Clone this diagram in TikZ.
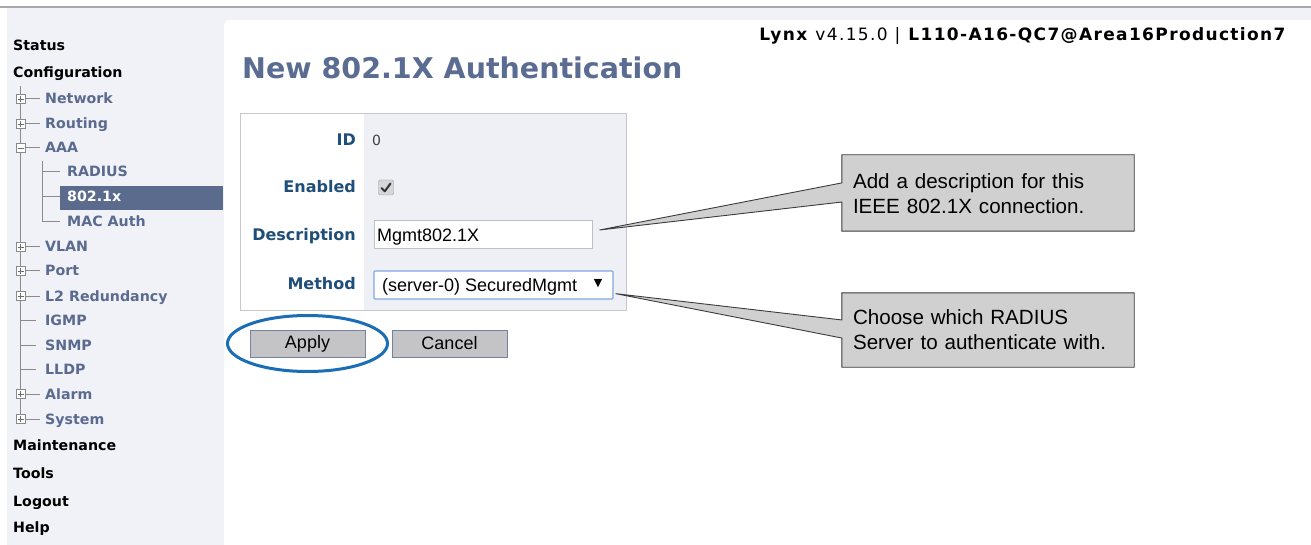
\documentclass[tikz,border=0pt]{standalone}
\usepackage{fontspec}
\setmainfont{Liberation Sans}
\newfontfamily\dv{DejaVu Sans}
\newfontfamily\dvwide[LetterSpace=8]{DejaVu Sans}
\usetikzlibrary{calc,shapes.geometric}
\definecolor{bgc}{HTML}{F0F2F7}
\definecolor{topline}{HTML}{A8A8A8}
\definecolor{sidec}{HTML}{5B6A8F}
\definecolor{hilite}{HTML}{5B6B8E}
\definecolor{titlec}{HTML}{5A6C92}
\definecolor{labelc}{HTML}{1F4E79}
\definecolor{treec}{HTML}{8A8A8A}
\definecolor{colbg}{HTML}{EEF0F6}
\definecolor{formborder}{HTML}{C8C8C8}
\definecolor{callfill}{HTML}{D0D0D0}
\definecolor{callborder}{HTML}{3C3C3C}
\definecolor{btnfill}{HTML}{C4C4C6}
\definecolor{btnborder}{HTML}{75819D}
\definecolor{ringc}{HTML}{1B6EB6}
\definecolor{selborder}{HTML}{7FA7E4}
\definecolor{inborder}{HTML}{BFBFBF}
\begin{document}
\begin{tikzpicture}[x=1pt,y=-1pt,
  sideitem/.style={anchor=base west, inner sep=0, font=\dv\bfseries\fontsize{14.2}{16}\selectfont, text=sidec},
  sidetop/.style={sideitem, text=black},
  treeline/.style={draw=treec, line width=1pt},
  formlabel/.style={anchor=base east, inner sep=0, font=\dv\bfseries\fontsize{16}{18}\selectfont, text=labelc},
  button/.style={draw=btnborder, fill=btnfill, line width=1pt, minimum width=115pt, minimum height=27pt, inner sep=0, font=\fontsize{18}{20}\selectfont},
  callbox/.style={minimum width=292pt, inner sep=0},
  calltext/.style={align=left, text width=275pt, inner sep=0, font=\fontsize{20.6}{25}\selectfont},
  callshape/.style={fill=callfill, draw=callborder, line width=0.9pt, line join=miter}
]
\useasboundingbox (0,0) rectangle (1311,545);
% background
\fill[white] (0,0) rectangle (1311,545);
\fill[bgc] (7,8) rectangle (1311,545);
\draw[topline, line width=1.5pt] (0,7) -- (1311,7);
% main panel
\fill[white, rounded corners=6pt] (224,20) rectangle (1330,570);

% ---------- sidebar ----------
\fill[hilite] (60,186) rectangle (223,210);
\draw[treeline] (20.5,86) -- (20.5,419);
\draw[treeline] (42.3,161) -- (42.3,222);
\foreach \yc in {99,124,148,247,271,296,394,419}{
  \draw[treeline, fill=white] (16,\yc-4.5) rectangle (25,\yc+4.5);
  \draw[treeline] (25,\yc) -- (40,\yc);
  \draw[treec!80!black, line width=0.9pt] (17.5,\yc) -- (23.5,\yc);
}
\foreach \yc in {99,124,247,271,296,394,419}{
  \draw[treec!80!black, line width=0.9pt] (20.5,\yc-3) -- (20.5,\yc+3);
}
\foreach \yc in {320,345,369}{ \draw[treeline] (20.5,\yc) -- (36,\yc); }
\foreach \yc in {172,197,222}{ \draw[treeline] (42.3,\yc) -- (60,\yc); }

\node[sidetop] (status) at (13,50.5) {Status};
\node[sidetop] (config) at (13,78) {Configuration};
\node[sideitem] (network) at (45,104) {Network};
\node[sideitem] (routing) at (45,129) {Routing};
\node[sideitem] (aaa) at (45,153) {AAA};
\node[sideitem] (radius) at (67,177) {RADIUS};
\node[sideitem, text=white] (dot1x) at (67,202) {802.1x};
\node[sideitem] (macauth) at (67,227) {MAC Auth};
\node[sideitem] (vlan) at (45,252) {VLAN};
\node[sideitem] (port) at (45,276) {Port};
\node[sideitem] (l2red) at (45,301) {L2 Redundancy};
\node[sideitem] (igmp) at (45,325) {IGMP};
\node[sideitem] (snmp) at (45,350) {SNMP};
\node[sideitem] (lldp) at (45,374) {LLDP};
\node[sideitem] (alarm) at (45,399) {Alarm};
\node[sideitem] (system) at (45,424) {System};
\node[sidetop] (maint) at (13,450.5) {Maintenance};
\node[sidetop] (tools) at (13,478.5) {Tools};
\node[sidetop] (logout) at (13,506) {Logout};
\node[sidetop] (help) at (13,532.5) {Help};

% ---------- header ----------
\node[anchor=base east, inner sep=0, font=\dvwide\fontsize{17}{19}\selectfont] (hdr) at (1287,41)
  {\textbf{Lynx} v4.15.0 | \textbf{L110-A16-QC7@Area16Production7}};
\node[anchor=base west, inner sep=0, font=\dv\bfseries\fontsize{28.5}{32}\selectfont, text=titlec] (title) at (242,79)
  {New 802.1X Authentication};

% ---------- form ----------
\fill[colbg] (364,114) rectangle (626,310);
\draw[formborder, line width=1pt] (240,114) rectangle (626,310);

\node[formlabel] (lid) at (356,146) {ID};
\node[formlabel] (lenabled) at (356,193) {Enabled};
\node[formlabel] (ldesc) at (356,241) {Description};
\node[formlabel] (lmethod) at (356,290) {Method};

\node[anchor=base west, inner sep=0, font=\dv\fontsize{14}{16}\selectfont, text=black!75] (idval) at (372,146) {0};

\node[draw=black!40, fill=black!16, rounded corners=2pt, minimum width=15pt, minimum height=15pt, inner sep=0] (chk) at (386,187.5) {};
\draw[black!80, line width=2pt, line cap=round, line join=round] ($(chk.center)+(-4.5,0.5)$) -- ($(chk.center)+(-1.2,3.8)$) -- ($(chk.center)+(4.5,-4)$);

\node[draw=inborder, fill=white, line width=1pt, minimum width=218pt, minimum height=28pt, inner sep=0] (desc) at (483,235) {};
\node[anchor=base west, inner sep=0, font=\fontsize{18}{20}\selectfont] (desctext) at (377,241.5) {Mgmt802.1X};

\node[draw=selborder, fill=white, line width=1.3pt, rounded corners=1pt, minimum width=239pt, minimum height=28pt, inner sep=0] (method) at (493.5,285) {};
\node[anchor=base west, inner sep=0, font=\fontsize{18}{20}\selectfont] (methodtext) at (382,291.5) {(server-0) SecuredMgmt};
\node[inner sep=0, font=\dv\fontsize{11}{12}\selectfont] (arrowdown) at (598,284) {▼};

% ---------- buttons ----------
\node[button] (apply) at (307.5,343.5) {Apply};
\node[button] (cancel) at (449.5,343.5) {Cancel};
\draw[ringc, line width=3pt] (apply.center) ellipse [x radius=80, y radius=28];

% ---------- callouts ----------
\node[callbox, minimum height=76pt] (call1) at (988,193) {};
\coordinate (tip1) at ($(desc.east)+(7,-5)$);
\draw[callshape] (call1.north west) -- (call1.north east) -- (call1.south east) -- (call1.south west)
  -- ($(call1.north west)!0.618!(call1.south west)$) -- (tip1)
  -- ($(call1.north west)!0.368!(call1.south west)$) -- cycle;
\node[calltext, anchor=west] (call1t) at ($(call1.west)+(11,1)$) {Add a description for this\\IEEE 802.1X connection.};

\node[callbox, minimum height=74pt] (call2) at (988,330) {};
\coordinate (tip2) at ($(method.south east)+(2,-6)$);
\draw[callshape] (call2.north west) -- (call2.north east) -- (call2.south east) -- (call2.south west)
  -- ($(call2.north west)!0.608!(call2.south west)$) -- (tip2)
  -- ($(call2.north west)!0.365!(call2.south west)$) -- cycle;
\node[calltext, anchor=west] (call2t) at ($(call2.west)+(11,0)$) {Choose which RADIUS\\Server to authenticate with.};
\end{tikzpicture}
\end{document}
